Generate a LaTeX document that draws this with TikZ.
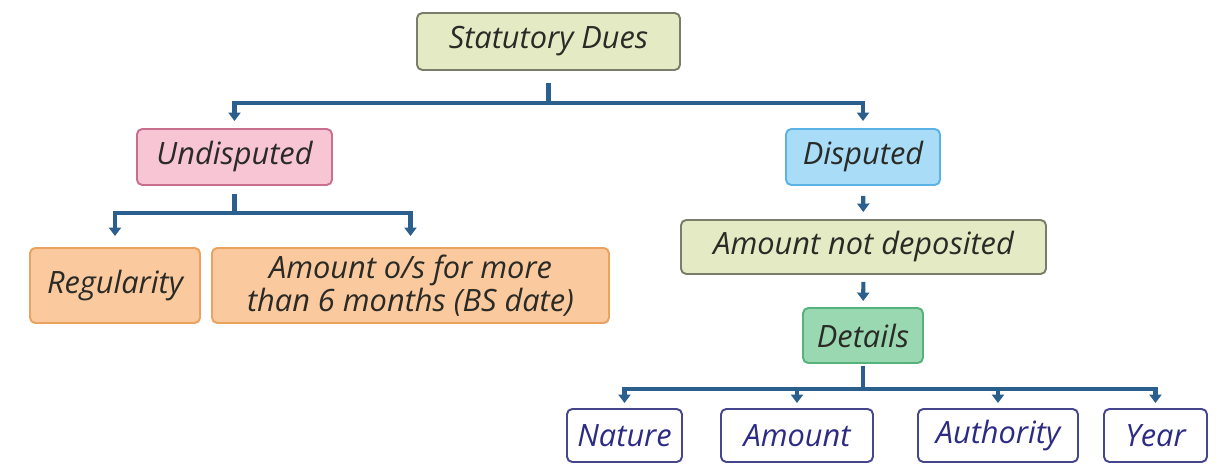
\documentclass[tikz,border=0pt]{standalone}
\usepackage{fontspec}
\setmainfont{Open Sans}
\usetikzlibrary{arrows.meta,calc,positioning}
\definecolor{linkblue}{HTML}{2B5F8E}
\definecolor{inkdark}{HTML}{2A2A26}
\definecolor{inknavy}{HTML}{2C2C84}
\definecolor{palelime}{HTML}{E4EBC4}
\definecolor{limeedge}{HTML}{7C7C6A}
\definecolor{palepink}{HTML}{F7C5D3}
\definecolor{pinkedge}{HTML}{C96E8E}
\definecolor{paleblue}{HTML}{A9DCF6}
\definecolor{blueedge}{HTML}{5AB2E6}
\definecolor{paleorange}{HTML}{FACA9E}
\definecolor{orangeedge}{HTML}{EAA25E}
\definecolor{palegreen}{HTML}{9AD8B2}
\definecolor{greenedge}{HTML}{55B27A}
\definecolor{leafedge}{HTML}{46468E}
\tikzset{
  duebox/.style={
    rounded corners=3pt,
    line width=1.1pt,
    align=center,
    inner sep=2pt,
    text=inkdark,
    font=\fontsize{17.5}{18.5}\selectfont\itshape
  },
  headbox/.style={duebox, draw=limeedge, fill=palelime},
  undbox/.style={duebox, draw=pinkedge, fill=palepink},
  disbox/.style={duebox, draw=blueedge, fill=paleblue},
  orangebox/.style={duebox, draw=orangeedge, fill=paleorange},
  greenbox/.style={duebox, draw=greenedge, fill=palegreen},
  leafbox/.style={duebox, draw=leafedge, fill=white, text=inknavy,
    minimum height=1.06cm},
  stem/.style={line width=2.3pt, linkblue},
  arrow/.style={
    -{Triangle[length=1.7mm,width=2.4mm]},
    line width=2.3pt,
    linkblue
  }
}

\begin{document}
\begin{tikzpicture}
\useasboundingbox (0,0) rectangle (24.5,-9.28);
% top level
\node[headbox, minimum width=5.26cm, minimum height=1.14cm] (sd) at (10.97,-0.83) {Statutory Dues};
\node[undbox, minimum width=3.9cm, minimum height=1.12cm] (und) at (4.69,-3.14) {Undisputed};
\node[disbox, minimum width=3.08cm, minimum height=1.12cm] (dis) at (17.26,-3.14) {Disputed};
% undisputed side
\node[orangebox, minimum width=3.4cm, minimum height=1.5cm] (reg) at (2.30,-5.71) {Regularity};
\node[orangebox, minimum width=7.94cm, minimum height=1.5cm] (amt) at (8.21,-5.71) {Amount o/s for more\\than 6 months (BS date)};
% disputed side
\node[headbox, minimum width=7.3cm, minimum height=1.08cm] (nd) at (17.27,-4.94) {Amount not deposited};
\node[greenbox, minimum width=2.4cm, minimum height=1.1cm] (det) at (17.26,-6.71) {Details};
\node[leafbox, minimum width=2.3cm] (nat) at (12.49,-8.71) {Nature};
\node[leafbox, minimum width=3.04cm] (amo) at (15.94,-8.71) {Amount};
\node[leafbox, minimum width=3.2cm] (aut) at (19.96,-8.71) {Authority};
\node[leafbox, minimum width=2.06cm] (yr) at (23.11,-8.71) {Year};

% connectors
\draw[stem] ([yshift=-0.24cm]sd.south) -- ++(0,-0.40) coordinate (j1);
\draw[arrow, shorten >=0.14cm] (j1) -| (und.north);
\draw[arrow, shorten >=0.14cm] (j1) -| (dis.north);
\draw[stem] ([yshift=-0.16cm]und.south) -- ++(0,-0.38) coordinate (j2);
\draw[arrow, shorten >=0.22cm] (j2) -| (reg.north);
\draw[arrow, shorten >=0.22cm] (j2) -| (amt.north);
\draw[arrow, shorten <=0.2cm, shorten >=0.14cm] (dis) -- (nd);
\draw[arrow, shorten <=0.14cm, shorten >=0.12cm] (nd) -- (det);
\draw[stem] ([yshift=-0.04cm]det.south) -- ++(0,-0.46) coordinate (j3);
\foreach \leaf in {nat,amo,aut,yr}
  \draw[arrow, shorten >=0.1cm] (j3) -| (\leaf.north);
\end{tikzpicture}
\end{document}
